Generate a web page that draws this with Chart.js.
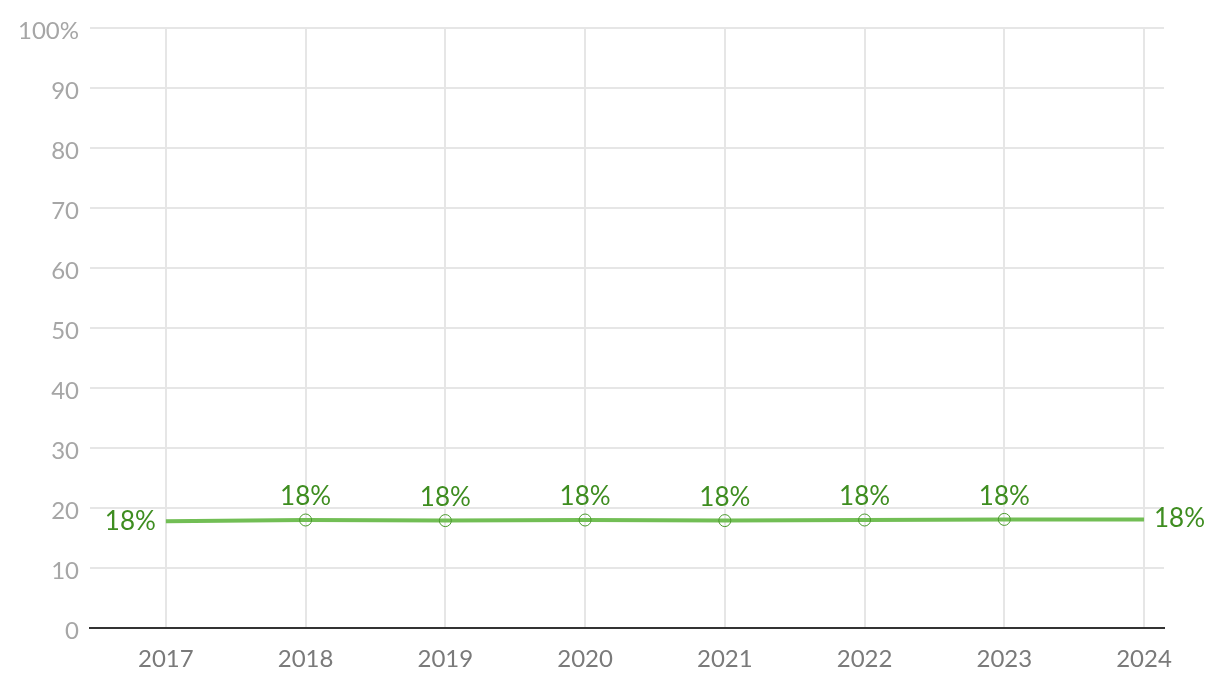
<!DOCTYPE html>
<html>
<head>
<meta charset="utf-8">
<script src="https://cdn.jsdelivr.net/npm/chart.js@4/dist/chart.umd.min.js"></script>
<style>
html,body{margin:0;padding:0;background:#fff;}
#wrap{width:1220px;height:692px;position:relative;}
</style>
</head>
<body>
<div id="wrap"><canvas id="c" width="1220" height="692"></canvas></div>
<script>
const years = [2017, 2018, 2019, 2020, 2021, 2022, 2023, 2024];
const shares = [17.8, 18.0, 17.9, 18.0, 17.9, 18.0, 18.1, 18.1];
const yTicks = [0, 10, 20, 30, 40, 50, 60, 70, 80, 90, 100];

const FONT = "'Source Sans Pro', Lato, 'Noto Sans', sans-serif";
const LABEL_COLOR = '#3e8d20';

const labelPlugin = {
  id: 'pointLabels',
  afterDatasetsDraw(chart) {
    const ctx = chart.ctx;
    const meta = chart.getDatasetMeta(0);
    ctx.save();
    ctx.font = '26px ' + FONT;
    ctx.fillStyle = LABEL_COLOR;
    meta.data.forEach((pt, i) => {
      const txt = Math.round(shares[i]) + '%';
      if (i === 0) {
        ctx.textAlign = 'right'; ctx.textBaseline = 'middle';
        ctx.fillText(txt, pt.x - 10, pt.y);
      } else if (i === shares.length - 1) {
        ctx.textAlign = 'left'; ctx.textBaseline = 'middle';
        ctx.fillText(txt, pt.x + 10, pt.y - 1);
      } else {
        ctx.textAlign = 'center'; ctx.textBaseline = 'bottom';
        ctx.fillText(txt, pt.x, pt.y - 10);
      }
    });
    ctx.restore();
  }
};

new Chart(document.getElementById('c'), {
  type: 'line',
  data: {
    datasets: [{
      data: years.map((y, i) => ({x: y, y: shares[i]})),
      borderColor: '#72be55',
      borderWidth: 4,
      tension: 0,
      pointRadius: years.map((y, i) => (i === 0 || i === years.length - 1) ? 0 : 6),
      pointBackgroundColor: 'rgba(0,0,0,0)',
      pointBorderColor: '#4a9a2c',
      pointBorderWidth: 1,
      pointHoverRadius: 6
    }]
  },
  options: {
    responsive: false,
    animation: false,
    events: [],
    layout: {padding: {top: 28, right: 56, left: 0, bottom: 0}},
    plugins: {legend: {display: false}, tooltip: {enabled: false}},
    scales: {
      x: {
        type: 'linear',
        min: 2017 - 76/140,
        max: 2024 + 20/140,
        afterBuildTicks: (s) => { s.ticks = years.map(v => ({value: v})); },
        afterFit: (s) => { s.height = 64; },
        grid: {color: '#e6e6e6', lineWidth: 2, drawTicks: false},
        border: {display: true, color: '#333333', width: 2},
        ticks: {
          callback: (v) => String(v),
          color: '#7a7a7a',
          font: {family: FONT, size: 24},
          padding: 17,
          maxRotation: 0,
          autoSkip: false
        }
      },
      y: {
        min: 0,
        max: 100,
        afterBuildTicks: (s) => { s.ticks = yTicks.map(v => ({value: v})); },
        afterFit: (s) => { s.width = 90; },
        grid: {color: '#e6e6e6', lineWidth: 2, drawTicks: false},
        border: {display: false},
        ticks: {
          callback: (v) => v === 100 ? '100%' : String(v),
          color: '#a6a6a6',
          font: {family: FONT, size: 24},
          padding: 11,
          labelOffset: 3
        }
      }
    }
  },
  plugins: [labelPlugin]
});
</script>
</body>
</html>
